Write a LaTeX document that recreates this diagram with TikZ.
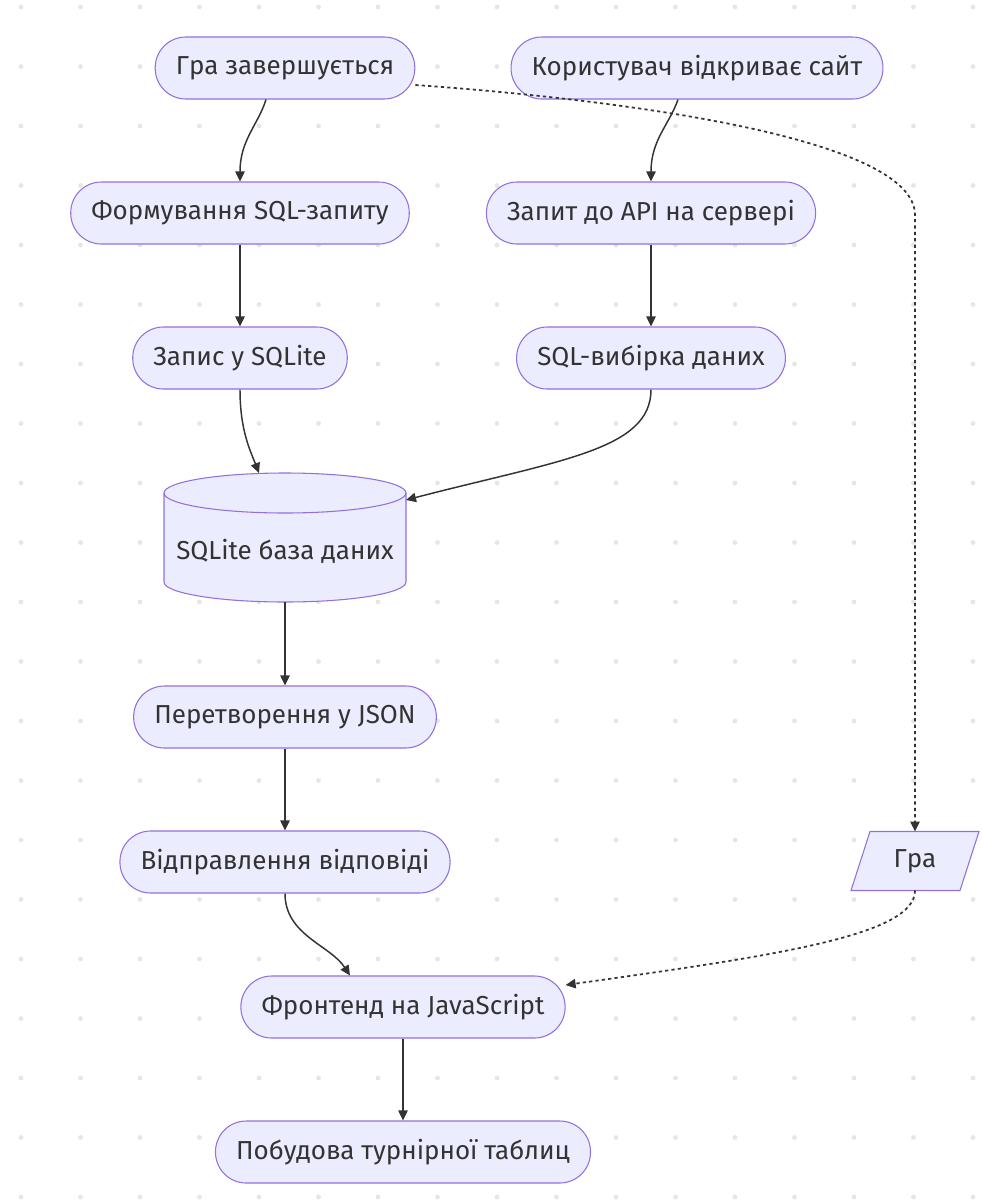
\documentclass[tikz,border=0pt]{standalone}
\usepackage{fontspec}
\setmainfont{Fira Sans}
\usetikzlibrary{arrows.meta}
\definecolor{nfill}{HTML}{ECECFF}
\definecolor{nline}{HTML}{9370DB}
\definecolor{ink}{HTML}{333333}
\definecolor{dotc}{HTML}{E6E6E6}
\begin{document}
\begin{tikzpicture}[x=0.75pt,y=0.75pt,
  txt/.style={text=ink, font=\fontsize{19.5}{23}\selectfont},
  stad/.style={txt, draw=nline, line width=0.8pt, fill=nfill, rounded corners=23pt,
    minimum height=46.5pt, inner xsep=15.5pt, inner ysep=0pt},
  shapeline/.style={draw=nline, line width=0.8pt, fill=nfill},
  ghost/.style={inner sep=0pt, outer sep=0pt},
  arr/.style={draw=ink, line width=1.1pt, -{Triangle[length=7.5pt,width=7pt]}},
  dotarr/.style={arr, dash pattern=on 2.4pt off 2.4pt, line width=1.3pt}]
\useasboundingbox (0,0) rectangle (982,-1200);
\fill[white] (0,0) rectangle (982,-1200);
% grid dots
\foreach \i in {0,...,16}{
  \foreach \j in {0,...,20}{
    \fill[dotc] ({21+59.5*\i},{-7-59.5*\j}) circle[radius=1.8pt];
  }
}
% nodes
\node[stad] (n1) at (285,-68) {Гра завершується};
\node[stad] (n2) at (697,-68) {Користувач відкриває сайт};
\node[stad] (n3) at (240,-213) {Формування SQL-запиту};
\node[stad] (n4) at (651,-213) {Запит до API на сервері};
\node[stad] (n5) at (240,-358) {Запис у SQLite};
\node[stad] (n6) at (651,-358) {SQL-вибірка даних};
% cylinder
\node[ghost, minimum width=181.5pt, minimum height=96.75pt] (cylbox) at (285,-537.5) {};
\path[shapeline] (164,-493) -- (164,-582)
  arc[start angle=180, end angle=360, x radius=90.75pt, y radius=15pt]
  -- (406,-493)
  arc[start angle=0, end angle=180, x radius=90.75pt, y radius=15pt] -- cycle;
\draw[nline, line width=0.8pt] (164,-493)
  arc[start angle=180, end angle=360, x radius=90.75pt, y radius=15pt];
\node[txt] (cyl) at (285,-551) {SQLite база даних};
\node[stad] (n8) at (285,-717) {Перетворення у JSON};
\node[stad] (n9) at (285,-862) {Відправлення відповіді};
% parallelogram
\node[ghost, minimum width=96pt, minimum height=44.25pt] (n10) at (915,-861) {};
\path[shapeline] ([xshift=14.25pt]n10.north west) -- (n10.north east)
  -- ([xshift=-14.25pt]n10.south east) -- (n10.south west) -- cycle;
\node[txt] (n10label) at (n10.center) {Гра};
\node[stad] (n11) at (403,-1007) {Фронтенд на JavaScript};
\node[stad] (n12) at (403,-1152) {Побудова турнірної таблиц};
% edges
\draw[arr] ([xshift=-14.25pt]n1.south) .. controls (258,-125) and (240,-140) .. (n3.north);
\draw[arr] ([xshift=-14.25pt]n2.south) .. controls (669,-125) and (651,-140) .. (n4.north);
\draw[arr] (n3.south) -- (n5.north);
\draw[arr] (n4.south) -- (n6.north);
\draw[arr] (n5.south) .. controls (240,-430) and (250,-450) .. ([xshift=-19.5pt]cylbox.north);
\draw[arr] (n6.south) .. controls (651,-450) and (560,-460) .. ([yshift=-20.25pt]cylbox.north east);
\draw[arr] (cylbox.south) -- (n8.north);
\draw[arr] (n8.south) -- (n9.north);
\draw[arr] (n9.south) .. controls (285,-935) and (330,-945) .. ([xshift=-39.75pt]n11.north);
\draw[arr] (n11.south) -- (n12.north);
\draw[dotarr] ([yshift=-12.75pt]n1.east) .. controls (600,-98) and (915,-135) .. (915,-215) -- (n10.north);
\draw[dotarr] (n10.south) .. controls (915,-935) and (780,-955) .. ([yshift=16.5pt]n11.east);
\end{tikzpicture}
\end{document}
